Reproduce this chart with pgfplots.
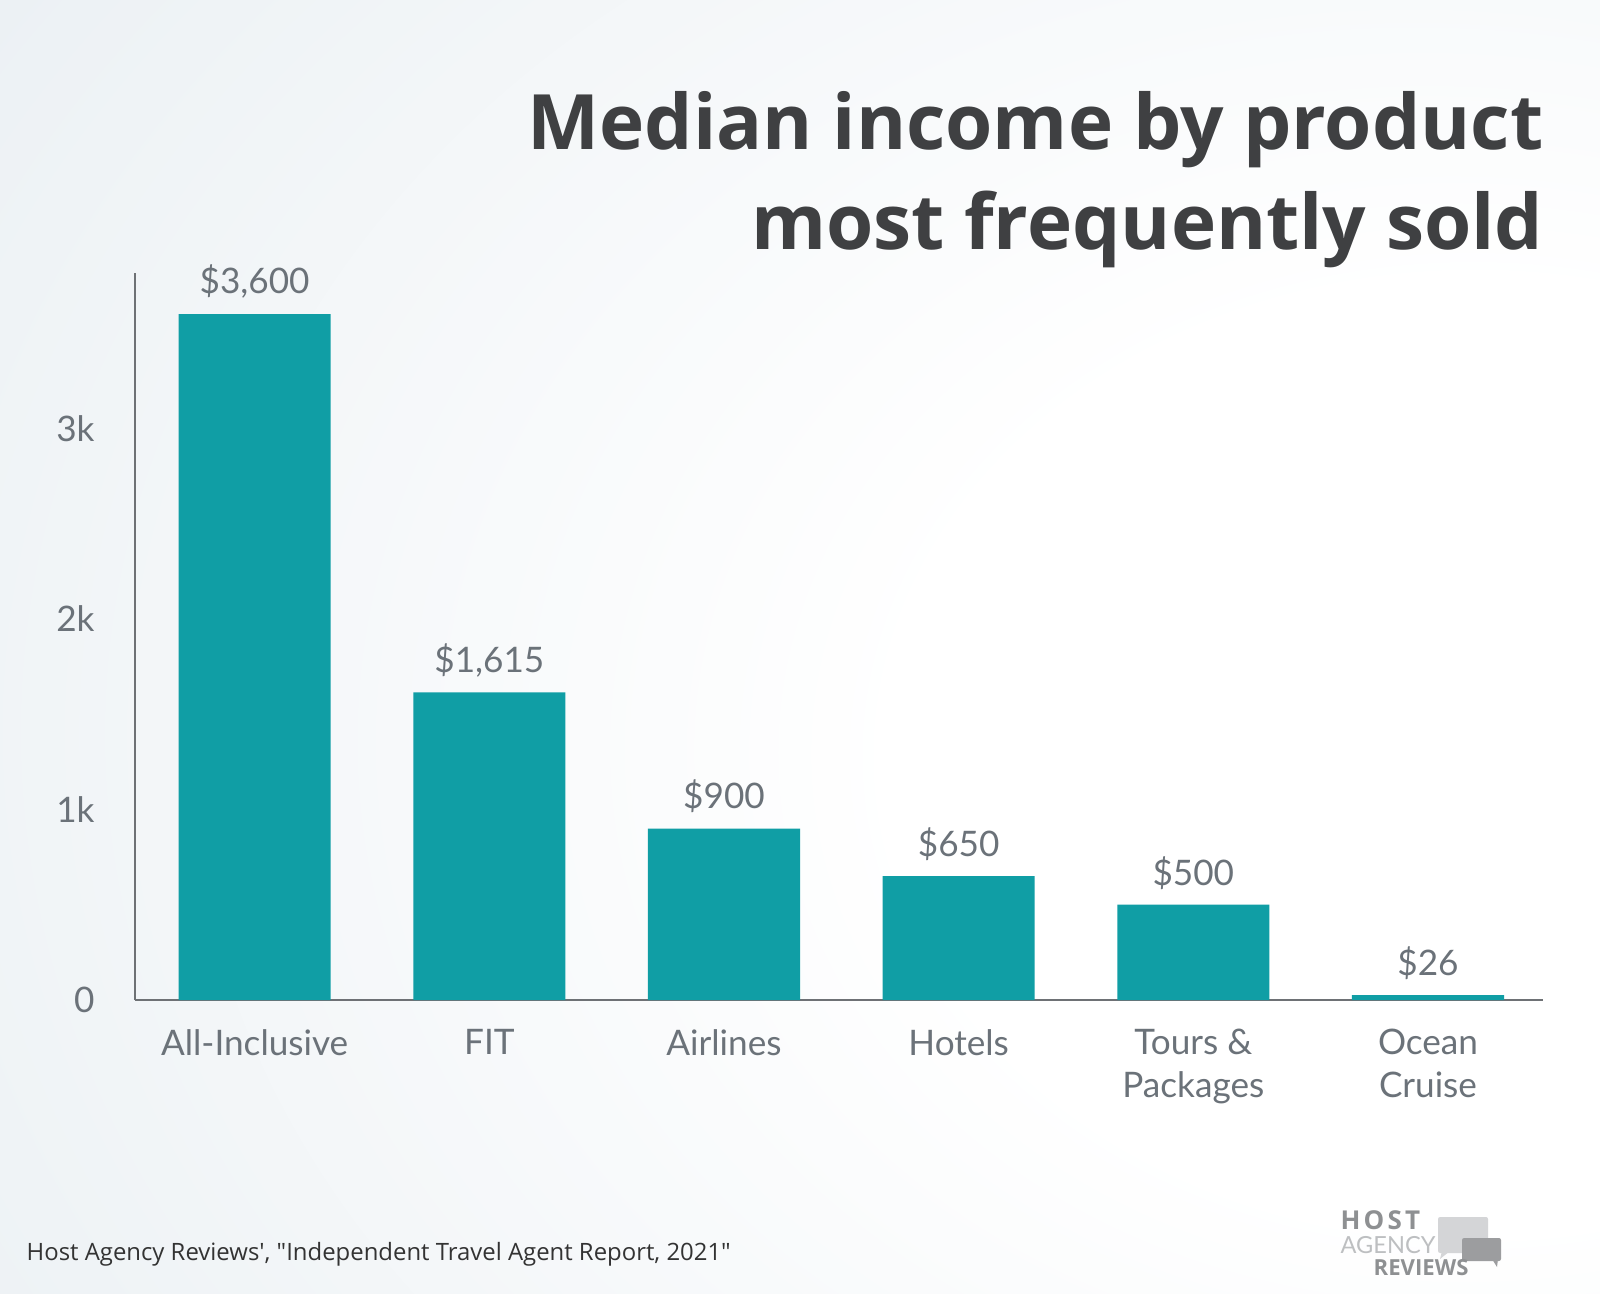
\documentclass[border=0pt]{standalone}
\usepackage{pgfplots}
\pgfplotsset{compat=1.18}
\usepackage{fontspec}
\setmainfont{Lato}
\newfontfamily\titlefont{Open Sans}
\definecolor{barc}{HTML}{109EA5}
\definecolor{txt}{HTML}{6B7279}
\definecolor{axc}{HTML}{6E7175}
\definecolor{titlec}{HTML}{3F4042}
\definecolor{bgA}{HTML}{E8EEF2}
\definecolor{bgB}{HTML}{D9E2E9}
\definecolor{logoA}{HTML}{8E9092}
\definecolor{logoB}{HTML}{BDBFC1}
\definecolor{bubA}{HTML}{D4D5D7}
\definecolor{bubB}{HTML}{9C9D9F}
\pgfdeclareradialshading{bgshade}{\pgfpoint{25bp}{-5bp}}{color(0bp)=(white); color(18bp)=(white); color(55bp)=(bgA); color(95bp)=(bgB); color(120bp)=(bgB)}
\begin{document}
\begin{tikzpicture}
\path[shading=bgshade] (0,0) rectangle (16,12.93);
\begin{axis}[
  at={(1.35cm,2.93cm)}, anchor=south west,
  width=14.08cm, height=7.27cm, scale only axis,
  xmin=-0.51, xmax=5.49, ymin=0, ymax=3816,
  axis x line=bottom, axis y line=left,
  axis line style={-, draw=axc, line width=0.7pt},
  major tick length=0pt,
  xtick={0,1,2,3,4,5},
  xticklabels={All-Inclusive, FIT, Airlines, Hotels, {Tours \&\\Packages}, {Ocean\\Cruise}},
  xticklabel style={align=center, font=\fontsize{10}{12}\selectfont, text=txt, anchor=north, yshift=-1.7mm},
  ytick={0,1000,2000,3000},
  yticklabels={0,1k,2k,3k},
  yticklabel style={font=\fontsize{10}{12}\selectfont, text=txt, xshift=-2.8mm},
  ybar, bar width=0.648,
  nodes near coords={\$\pgfmathprintnumber[assume math mode=true,fixed,precision=0,1000 sep={,}]{\pgfplotspointmeta}},
  nodes near coords style={font=\fontsize{10}{12}\selectfont, text=txt, anchor=south, yshift=0.3mm},
  point meta=y,
  clip=false,
]
\addplot[fill=barc, draw=none] coordinates {(0,3600) (1,1615) (2,900) (3,650) (4,500) (5,26)};
\end{axis}
\node[anchor=base east, text=titlec, font=\titlefont\bfseries\fontsize{21.75}{26}\selectfont, inner sep=0] at (15.44,11.43) {Median income by product};
\node[anchor=base east, text=titlec, font=\titlefont\bfseries\fontsize{21.75}{26}\selectfont, inner sep=0] at (15.44,10.43) {most frequently sold};
\node[anchor=base west, text=black!80, font=\titlefont\fontsize{6.8}{8}\selectfont, inner sep=0] at (0.26,0.33) {Host Agency Reviews', "Independent Travel Agent Report, 2021"};
% logo
\fill[bubA, rounded corners=0.6pt] (14.38,0.40) rectangle (14.88,0.76);
\fill[bubA] (14.42,0.42) -- (14.40,0.34) -- (14.50,0.42) -- cycle;
\fill[bubB, rounded corners=0.6pt] (14.62,0.32) rectangle (15.01,0.55);
\fill[bubB] (14.92,0.34) -- (14.97,0.26) -- (14.98,0.34) -- cycle;
\node[anchor=base west, text=logoA, font=\titlefont\bfseries\fontsize{7.4}{8}\selectfont\addfontfeature{LetterSpace=12}, inner sep=0] at (13.40,0.64) {HOST};
\node[anchor=base west, text=logoB, font=\fontsize{6.7}{8}\selectfont, inner sep=0] at (13.40,0.40) {AGENCY};
\node[anchor=base west, text=logoA, font=\titlefont\bfseries\fontsize{6.3}{8}\selectfont, inner sep=0] at (13.73,0.18) {REVIEWS};
\pgfresetboundingbox
\path (0,0) rectangle (16,12.93);
\end{tikzpicture}
\end{document}
